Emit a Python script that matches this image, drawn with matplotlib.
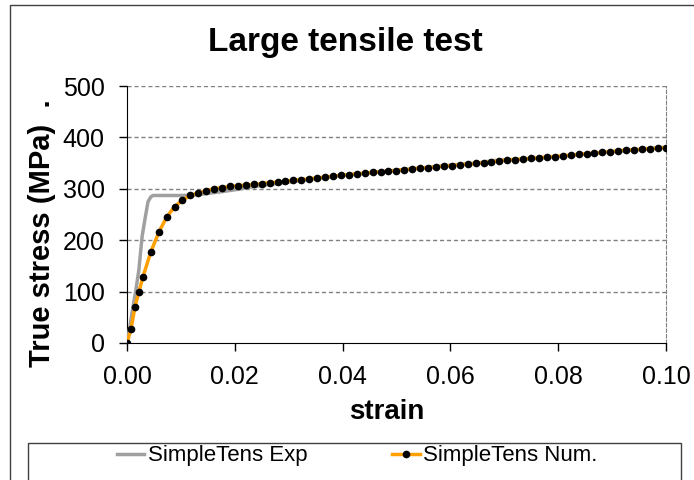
import matplotlib
matplotlib.use("Agg")
import matplotlib.pyplot as plt
from matplotlib.patches import Rectangle

plt.rcParams['font.family'] = ['Liberation Sans', 'DejaVu Sans']

# Experimental curve (gray)
exp_strain = [0.0, 0.0005, 0.0011, 0.0016, 0.0022, 0.0028, 0.0033, 0.0039, 0.0044,
              0.0048, 0.006, 0.008, 0.010, 0.012, 0.0135, 0.015, 0.018, 0.020,
              0.024, 0.030, 0.035, 0.040, 0.050, 0.060, 0.065, 0.068, 0.072,
              0.075, 0.080, 0.090, 0.100]
exp_stress = [0, 30, 70, 100, 142, 207, 239, 275, 284,
              287, 287, 287, 287, 287.5, 289, 291, 295, 298,
              305, 313, 320, 326, 336, 346, 350, 355, 357,
              358, 363, 372, 381]

# Numerical curve (orange with black dots)
num_strain = [0.0, 0.00074, 0.00147, 0.00221, 0.00294,
              0.00441, 0.00588, 0.00735, 0.00882, 0.01029, 0.01176, 0.01323, 0.0147,
              0.01617, 0.01764, 0.01911, 0.02058, 0.02205, 0.02352, 0.02499, 0.02646,
              0.02793, 0.0294, 0.03087, 0.03234, 0.03381, 0.03528, 0.03675, 0.03822,
              0.03969, 0.04116, 0.04263, 0.0441, 0.04557, 0.04704, 0.04851, 0.04998,
              0.05145, 0.05292, 0.05439, 0.05586, 0.05733, 0.0588, 0.06027, 0.06174,
              0.06321, 0.06468, 0.06615, 0.06762, 0.06909, 0.07056, 0.07203, 0.0735,
              0.07497, 0.07644, 0.07791, 0.07938, 0.08085, 0.08232, 0.08379, 0.08526,
              0.08673, 0.0882, 0.08967, 0.09114, 0.09261, 0.09408, 0.09555, 0.09702,
              0.09849, 0.09996]
num_stress = [0, 27, 70, 100, 128,
              177, 215, 245, 265, 278, 287, 292, 296.5,
              300, 302.5, 304.5, 306, 307.5, 308.5, 310, 312,
              313, 314.5, 316.5, 318, 319.5, 321, 323, 324.5,
              326, 327.5, 329, 330.5, 332, 333, 334.3, 335.6,
              337, 338.6, 340, 341.2, 342.6, 344, 345.3, 346.7,
              348, 349.3, 350.6, 351.9, 354.5, 356, 357, 358,
              359.2, 360.6, 361.9, 362.8, 364.3, 365.5, 367, 368.3,
              369.8, 371, 372.3, 373.8, 375.2, 376, 377, 378,
              379, 380]

x_ticks = [0.0, 0.02, 0.04, 0.06, 0.08, 0.10]
x_tick_labels = ['0.00', '0.02', '0.04', '0.06', '0.08', '0.10']
y_ticks = [0, 100, 200, 300, 400, 500]

W, H = 694, 480
fig = plt.figure(figsize=(W / 100, H / 100), dpi=100)
ax = fig.add_axes([127 / W, 1 - 343 / H, (666 - 127) / W, (343 - 86) / H])

ax.plot(exp_strain, exp_stress, color='#A0A0A0', lw=2.5, label='SimpleTens Exp', zorder=3)
ax.plot(num_strain, num_stress, color='#FFA000', lw=2.5, marker='o', markersize=4.5,
        markerfacecolor='black', markeredgecolor='black', label='SimpleTens Num.', zorder=4)

ax.set_xlim(0, 0.10)
ax.set_ylim(0, 500)
ax.set_xticks(x_ticks)
ax.set_xticklabels(x_tick_labels)
ax.set_yticks(y_ticks)
ax.tick_params(axis='both', labelsize=18, direction='out', length=6, width=1, color='black')
ax.tick_params(axis='x', pad=10)
ax.tick_params(axis='y', pad=10)

for y in y_ticks[1:]:
    ax.axhline(y, color='#808080', lw=1, linestyle=(0, (3, 2)), zorder=1)

ax.spines['top'].set_visible(False)
ax.spines['right'].set_color('#808080')
ax.spines['right'].set_linestyle((0, (3, 2)))
ax.spines['left'].set_color('black')
ax.spines['bottom'].set_color('black')

fig.text(345 / W, 1 - 43 / H, 'Large tensile test', fontsize=24, fontweight='bold',
         ha='center', va='center')
ax.set_xlabel('strain', fontsize=20, fontweight='bold')
ax.xaxis.set_label_coords((387 - 127) / 539, (343 - 412) / 257)
ax.xaxis.label.set_va('center')
ax.set_ylabel('True stress (MPa)  .', fontsize=21, fontweight='bold')
ax.yaxis.set_label_coords((42 - 127) / 539, (343 - 233) / 257)
ax.yaxis.label.set_va('center')

# outer chart border
fig.patches.append(Rectangle((10 / W, -0.1), 1.2, 1 - 5 / H + 0.1, transform=fig.transFigure,
                             fill=False, edgecolor='#404040', lw=1))
# legend box
fig.patches.append(Rectangle((28 / W, -0.1), (681 - 28) / W, 1 - 443 / H + 0.1,
                             transform=fig.transFigure, fill=False, edgecolor='#404040', lw=1))
fig.legend(loc='center', bbox_to_anchor=(357 / W, 1 - 456 / H), ncol=2, frameon=False,
           fontsize=16, handlelength=1.25, handletextpad=0.15, columnspacing=3.8,
           borderpad=0, borderaxespad=0)

fig.savefig('out.png', dpi=100)
